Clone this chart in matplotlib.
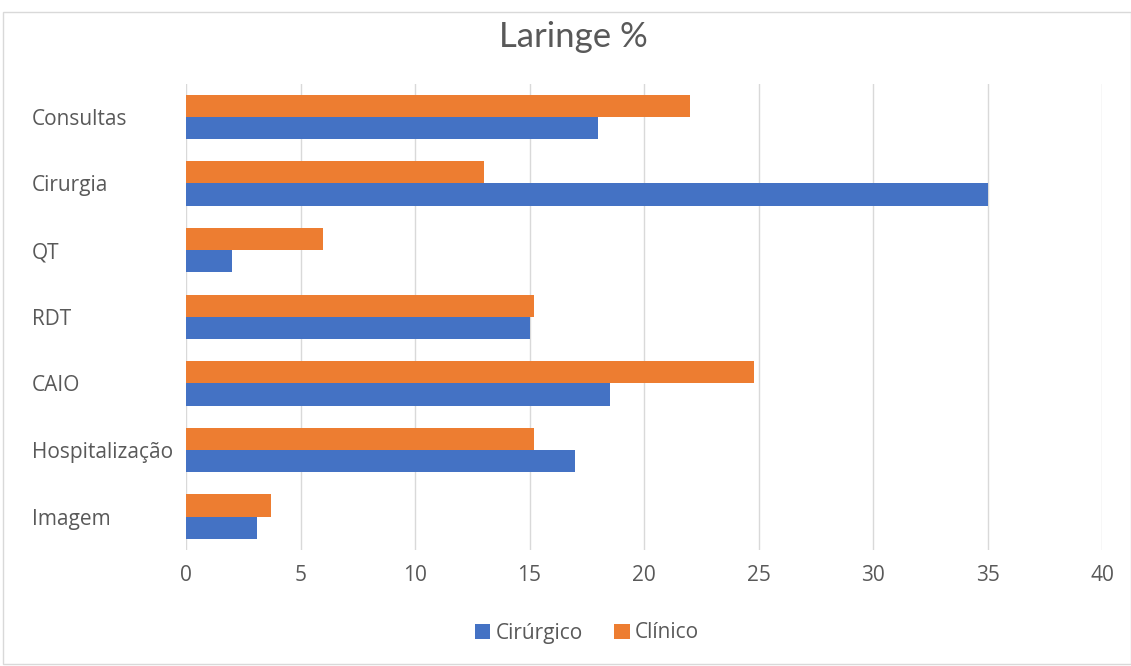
import matplotlib
matplotlib.use("Agg")
import matplotlib.pyplot as plt
from matplotlib.patches import Rectangle
import numpy as np

categories = ["Consultas", "Cirurgia", "QT", "RDT", "CAIO", "Hospitalização", "Imagem"]
cirurgico = [18.0, 35.0, 2.0, 15.0, 18.5, 17.0, 3.1]
clinico = [22.0, 13.0, 6.0, 15.2, 24.8, 15.2, 3.7]
xticks = [0, 5, 10, 15, 20, 25, 30, 35, 40]

plt.rcParams['font.family'] = ['Open Sans', 'DejaVu Sans']

fig = plt.figure(figsize=(11.31, 6.66), dpi=100)
fig.patch.set_facecolor("white")
fig.patches.append(Rectangle((3/1131, 2/666), 1 - 3/1131, 1 - 14/666, transform=fig.transFigure,
                             fill=False, edgecolor="#d9d9d9", linewidth=1))

ax = fig.add_axes([186/1131, 1 - 550/666, (1102 - 186)/1131, (550 - 83.5)/666])
y = np.arange(len(categories))
h = 1/3
ax.barh(y + h/2, cirurgico, height=h, color="#4472C4", label="Cirúrgico", zorder=3)
ax.barh(y - h/2, clinico, height=h, color="#ED7D31", label="Clínico", zorder=3)

ax.set_ylim(len(categories) - 0.5, -0.5)
ax.set_xlim(0, 40)
ax.set_xticks(xticks)
ax.set_xticklabels([str(t) for t in xticks])
ax.set_yticks(y)
ax.set_yticklabels(categories)
ax.tick_params(axis="both", length=0, labelsize=15, labelcolor="#595959")
ax.tick_params(axis="x", pad=11)
ax.tick_params(axis="y", pad=0)
for lbl in ax.get_yticklabels():
    lbl.set_horizontalalignment("left")
    lbl.set_x(-154/916)
ax.xaxis.grid(True, color="#d9d9d9", linewidth=1, zorder=0)
for s in ax.spines.values():
    s.set_visible(False)

fig.text(573/1131, 1 - 37/666, "Laringe %", ha="center", va="center", fontsize=25,
         color="#595959", family=["Lato", "DejaVu Sans"])

fig.legend(loc="center", bbox_to_anchor=(587/1131, 1 - 633/666), ncol=2, frameon=False,
           fontsize=15, labelcolor="#595959", handlelength=0.75, handleheight=0.75,
           handletextpad=0.25, columnspacing=1.5)

fig.savefig("out.png", dpi=100, facecolor="white")
